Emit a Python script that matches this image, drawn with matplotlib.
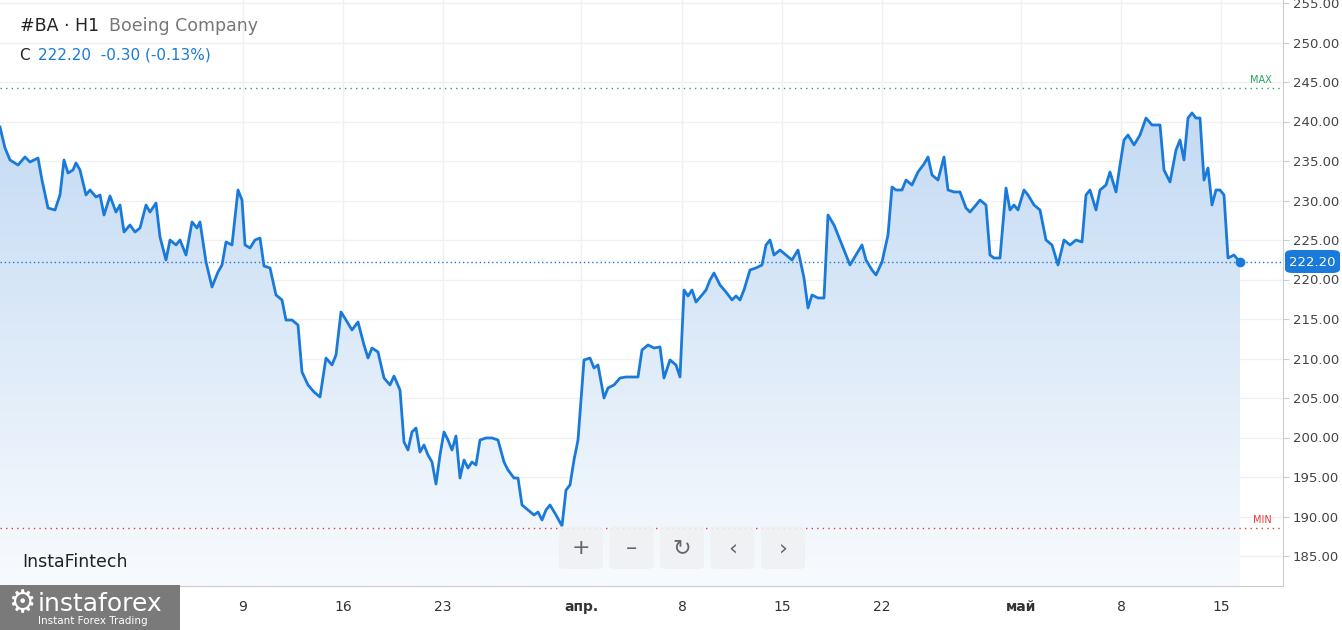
import matplotlib
matplotlib.use("Agg")
import matplotlib.pyplot as plt
import numpy as np
from matplotlib.patches import FancyBboxPatch, Rectangle
from matplotlib.path import Path
from matplotlib.patches import PathPatch

# time index (chart position) and close prices
t = [0,5,10,18,25,30,38,42,48,55,60,64,68,73,76,80,86,90,96,100,104,110,116,120,124,130,135,140,146,150,156,160,166,170,176,180,186,192,197,200,206,212,218,222,226,232,238,242,245,250,255,260,264,270,276,282,286,292,298,302,308,314,320,326,332,336,341,346,352,358,364,368,372,378,384,390,394,400,404,408,412,416,420,424,428,432,436,440,444,448,452,456,460,464,468,472,476,480,486,492,498,504,508,514,518,522,528,534,538,542,546,550,556,562,566,570,574,578,584,590,594,598,604,608,614,620,626,632,638,642,648,654,660,664,670,676,680,684,688,692,696,702,706,710,714,720,726,732,736,740,744,750,756,762,766,770,774,780,786,792,798,804,808,812,818,824,828,834,840,846,850,856,862,866,872,876,882,888,892,896,902,906,912,918,924,928,932,938,944,948,954,960,966,970,976,980,986,990,994,1000,1006,1010,1014,1018,1024,1028,1034,1040,1046,1052,1058,1064,1070,1076,1082,1086,1090,1096,1100,1106,1110,1116,1120,1124,1128,1134,1140,1146,1152,1160,1164,1170,1176,1180,1184,1188,1192,1196,1200,1204,1208,1212,1216,1220,1224,1228,1234,1240]
ypx = [127,148,160,165,157,162,158,180,208,210,195,160,173,170,163,170,195,190,197,195,215,196,212,205,232,225,232,228,205,212,203,237,260,240,245,240,255,222,228,222,262,287,272,265,242,245,190,200,245,248,240,238,266,268,295,300,320,320,325,372,385,392,397,358,365,355,312,320,330,322,345,358,348,352,378,385,376,390,442,450,432,428,452,445,455,462,484,455,432,440,450,436,478,460,468,462,465,440,438,438,440,462,470,478,478,505,510,515,512,520,510,505,515,526,490,485,460,440,360,358,368,365,398,388,385,378,377,377,377,350,345,348,347,378,360,365,377,290,296,290,302,295,290,280,273,285,292,300,296,300,290,270,268,265,245,240,255,250,255,260,250,278,308,295,298,298,215,225,240,255,265,255,245,260,270,275,262,235,187,190,190,180,185,172,164,157,175,180,157,190,192,192,208,212,205,200,205,255,258,258,188,210,205,210,190,195,205,210,240,245,265,240,245,240,242,195,190,210,190,185,172,192,165,140,135,145,135,118,125,125,170,182,150,140,160,118,113,118,118,180,168,205,190,190,195,258,255,260]
price = [round(255 - (p - 3) / 7.9, 2) for p in ypx]
price[-1] = 222.20

tick_pos = [243,343,443,581,682,782,882,1021,1121,1221]
tick_lab = ["9","16","23","апр.","8","15","22","май","8","15"]
bold_ticks = {"апр.","май"}
y_ticks = [185,190,195,200,205,210,215,220,225,230,235,240,245,250,255]
max_level = 244.2
min_level = 188.5
last = 222.20

W, H = 1342, 630
fig = plt.figure(figsize=(W/100, H/100), dpi=100)
ax = fig.add_axes([0, 44/H, 1283/W, 586/H])
xmin, xmax = 0, 1283
ymin = 255 - 583/7.9
ymax = 255 + 3/7.9
ax.set_xlim(xmin, xmax); ax.set_ylim(ymin, ymax)

blue = "#1a7ad9"
verts = [(t[0], ymin)] + list(zip(t, price)) + [(t[-1], ymin)]
poly = PathPatch(Path(verts), facecolor="none", edgecolor="none")
ax.add_patch(poly)
grad = np.linspace(0, 1, 256).reshape(-1, 1)
cmap = matplotlib.colors.LinearSegmentedColormap.from_list("g", ["#f8fbfe", "#c3daf3"])
im = ax.imshow(grad, extent=[xmin, xmax, ymin, 242], origin="lower", aspect="auto", cmap=cmap, zorder=1)
im.set_clip_path(poly)
ax.plot(t, price, color=blue, lw=2, zorder=3)
ax.plot([t[-1]], [price[-1]], "o", color=blue, ms=6, zorder=4)

for v in y_ticks:
    ax.axhline(v, color="#f0f0f0", lw=1, zorder=0)
for p in tick_pos:
    ax.axvline(p, color="#f0f0f0", lw=1, zorder=0)
ax.axhline(max_level, color="#26a65b", lw=1, ls=(0, (1, 3)), zorder=2)
ax.axhline(min_level, color="#e53935", lw=1, ls=(0, (1, 3)), zorder=2)
ax.axhline(last, color=blue, lw=1, ls=(0, (1, 2)), zorder=2)
ax.text(1272, max_level + 0.4, "MAX", color="#26a65b", fontsize=7, ha="right", va="bottom")
ax.text(1272, min_level + 0.4, "MIN", color="#e53935", fontsize=7, ha="right", va="bottom")

for s in ["top", "left"]:
    ax.spines[s].set_visible(False)
ax.spines["right"].set_color("#c8ccd4")
ax.spines["bottom"].set_color("#c8ccd4")
ax.yaxis.tick_right()
ax.set_yticks(y_ticks)
ax.set_yticklabels([f"{v:.2f}" for v in y_ticks], fontsize=9.5, color="#444444")
ax.tick_params(axis="y", length=4, color="#c8ccd4", pad=3)
ax.set_xticks(tick_pos)
ax.set_xticklabels(tick_lab, fontsize=10, color="#333333")
for lbl in ax.get_xticklabels():
    if lbl.get_text() in bold_ticks:
        lbl.set_fontweight("bold")
ax.tick_params(axis="x", length=0, pad=10)

# price tag
fig.patches.append(FancyBboxPatch((1285/W, (630-273)/H), 55/W, 23/H, boxstyle="round,pad=0,rounding_size=0.006",
                                  transform=fig.transFigure, facecolor=blue, edgecolor="none"))
fig.text(1312/W, (630-262)/H, "222.20", color="white", fontsize=9.5, ha="center", va="center")

# header
fig.text(20/W, (630-26)/H, "#BA · H1", fontsize=12.5, color="#222222", va="center")
fig.text(109/W, (630-26)/H, "Boeing Company", fontsize=12.5, color="#777777", va="center")
fig.text(19/W, (630-55)/H, "C", fontsize=11, color="#222222", va="center")
fig.text(38/W, (630-55)/H, "222.20  -0.30 (-0.13%)", fontsize=11, color=blue, va="center")
fig.text(22/W, (630-562)/H, "InstaFintech", fontsize=12.5, color="#222222", va="center")

# navigation buttons
syms = ["+", "–", "↻", "‹", "›"]
for i, s in enumerate(syms):
    x0 = 559 + i * 50.5
    fig.patches.append(FancyBboxPatch((x0/W, (630-569)/H), 44/W, 43/H, boxstyle="round,pad=0,rounding_size=0.005",
                                      transform=fig.transFigure, facecolor="#f0f1f3", edgecolor="none", alpha=0.9))
    fig.text((x0+22)/W, (630-548)/H, s, fontsize=16, color="#666666", ha="center", va="center")

# logo
fig.patches.append(Rectangle((0, 0), 180/W, 45/H, transform=fig.transFigure, facecolor="#7a7a7a", edgecolor="none"))
fig.text(38/W, (630-604)/H, "instaforex", fontsize=18, color="white", va="center")
fig.text(8/W, (630-604)/H, "⚙", fontsize=22, color="white", va="center")
fig.text(38/W, (630-621)/H, "Instant Forex Trading", fontsize=7.5, color="white", va="center")

fig.savefig("out.png", dpi=100)
